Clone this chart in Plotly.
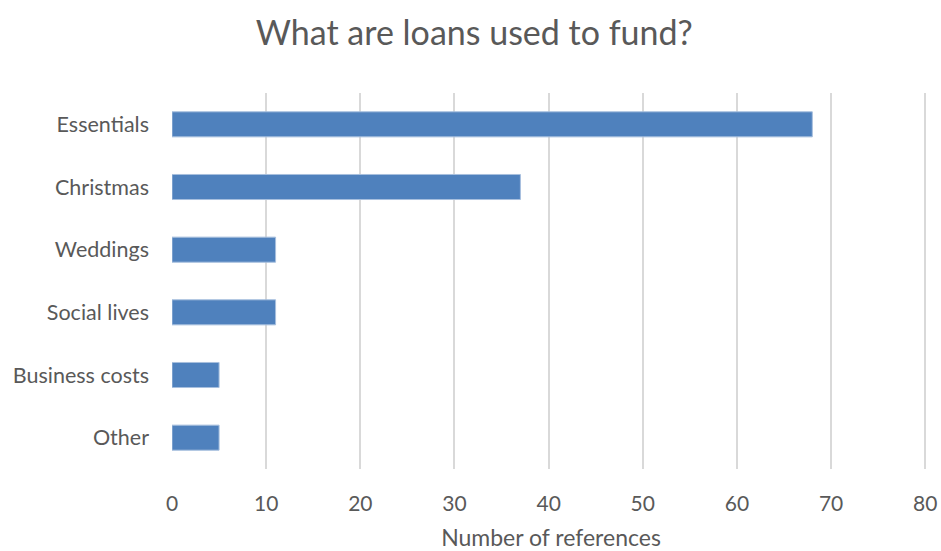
import plotly.graph_objects as go

# Loan purposes, listed top to bottom
categories = ["Essentials", "Christmas", "Weddings", "Social lives", "Business costs", "Other"]
references = [68, 37, 11, 11, 5, 5]
x_ticks = [0, 10, 20, 30, 40, 50, 60, 70, 80]

FONT = "Lato, 'Open Sans', sans-serif"
TEXT = "#595959"

fig = go.Figure(
    go.Bar(
        y=categories,
        x=references,
        orientation="h",
        marker=dict(color="#4F81BD", line=dict(color="#A7BFDE", width=1)),
        hoverinfo="x+y",
    )
)

fig.update_layout(
    width=941,
    height=551,
    margin=dict(l=171.5, r=10.8, t=93, b=82, autoexpand=False),
    paper_bgcolor="white",
    plot_bgcolor="white",
    bargap=0.6,
    showlegend=False,
    title=dict(
        text="What are loans used to fund?",
        x=0.504,
        xref="container",
        xanchor="center",
        y=0.94,
        yanchor="middle",
        font=dict(family=FONT, size=34, color=TEXT),
    ),
    font=dict(family=FONT, color=TEXT),
)

# Range runs a touch past 80 so the last gridline is drawn
fig.update_xaxes(
    range=[0, 80.5],
    tickvals=x_ticks,
    showgrid=True,
    gridcolor="#D9D9D9",
    gridwidth=1.5,
    zeroline=False,
    showline=False,
    ticks="",
    automargin=False,
    ticklabelstandoff=20,
    tickfont=dict(family=FONT, size=21, color=TEXT),
    title=dict(
        text="Number of references",
        font=dict(family=FONT, size=23, color=TEXT),
        standoff=19,
    ),
)

fig.update_yaxes(
    categoryorder="array",
    categoryarray=categories[::-1],
    showgrid=False,
    zeroline=False,
    showline=False,
    ticks="",
    automargin=False,
    ticklabelstandoff=22,
    tickfont=dict(family=FONT, size=21.5, color=TEXT),
)

fig.write_html("out.html")
